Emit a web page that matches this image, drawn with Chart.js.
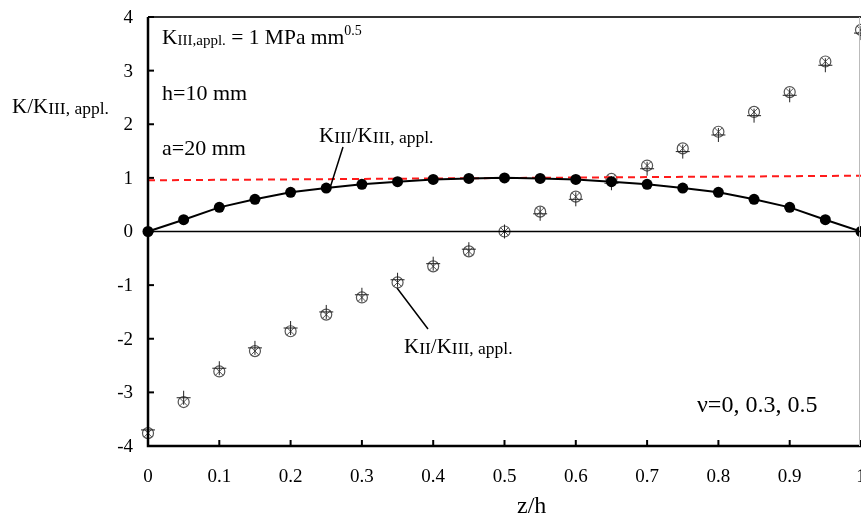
<!DOCTYPE html>
<html>
<head>
<meta charset="utf-8">
<script src="https://cdn.jsdelivr.net/npm/chart.js@4.4.0/dist/chart.umd.min.js"></script>
<style>
  html, body { margin: 0; padding: 0; background: #fff; }
  #wrap { width: 861px; height: 517px; }
</style>
</head>
<body>
<div id="wrap"><canvas id="kChart" width="861" height="517"></canvas></div>
<script>
// z/h positions
const zh = [0, 0.05, 0.1, 0.15, 0.2, 0.25, 0.3, 0.35, 0.4, 0.45, 0.5, 0.55, 0.6, 0.65, 0.7, 0.75, 0.8, 0.85, 0.9, 0.95, 1];
// KIII / KIII,appl.
const kIII = [0, 0.22, 0.45, 0.6, 0.73, 0.81, 0.88, 0.93, 0.97, 0.99, 1.0, 0.99, 0.97, 0.93, 0.88, 0.81, 0.73, 0.6, 0.45, 0.22, 0];
// KII / KIII,appl. for the three Poisson ratios
const kIIv0  = [-3.76, -3.18, -2.61, -2.23, -1.86, -1.55, -1.23, -0.95, -0.65, -0.37, 0, 0.37, 0.65, 0.98, 1.23, 1.55, 1.86, 2.23, 2.6, 3.17, 3.76];
const kIIv03 = [-3.76, -3.18, -2.61, -2.23, -1.86, -1.55, -1.23, -0.95, -0.65, -0.37, 0, 0.37, 0.65, 0.98, 1.23, 1.55, 1.86, 2.23, 2.6, 3.17, 3.76];
const kIIv05 = [-3.7, -3.1, -2.55, -2.17, -1.8, -1.5, -1.18, -0.9, -0.6, -0.33, 0, 0.33, 0.6, 0.9, 1.17, 1.49, 1.8, 2.16, 2.54, 3.1, 3.7];
// red dashed reference line
const refX = [0, 1];
const refY = [0.955, 1.04];
// tick labels
const xTicks = [0, 0.1, 0.2, 0.3, 0.4, 0.5, 0.6, 0.7, 0.8, 0.9, 1];
const yTicks = [-4, -3, -2, -1, 0, 1, 2, 3, 4];

const serif = '"Liberation Serif", "Times New Roman", serif';
const pts = (xs, ys) => xs.map((x, i) => ({ x: x, y: ys[i] }));

// draws text with sub/superscript pieces: [text, size, dy]
function rich(ctx, x, y, parts) {
    ctx.textAlign = 'left';
    ctx.textBaseline = 'alphabetic';
    parts.forEach(p => {
        ctx.font = p[1] + 'px ' + serif;
        ctx.fillText(p[0], x, y + (p[2] || 0));
        x += ctx.measureText(p[0]).width;
    });
}

const decor = {
    id: 'decor',
    afterDraw(chart) {
        const ctx = chart.ctx;
        const xs = chart.scales.x, ys = chart.scales.y;
        const a = chart.chartArea;
        ctx.save();
        ctx.strokeStyle = '#000';
        ctx.fillStyle = '#000';

        // frame
        ctx.lineWidth = 2.5;
        ctx.beginPath();
        ctx.moveTo(a.left, a.top); ctx.lineTo(a.left, a.bottom); ctx.lineTo(a.right, a.bottom);
        ctx.stroke();
        ctx.lineWidth = 2;
        ctx.strokeStyle = '#333';
        ctx.beginPath();
        ctx.moveTo(a.left, a.top); ctx.lineTo(a.right, a.top);
        ctx.stroke();
        ctx.strokeStyle = '#bbb';
        ctx.lineWidth = 1;
        ctx.beginPath();
        ctx.moveTo(a.right - 1.5, a.top); ctx.lineTo(a.right - 1.5, a.bottom);
        ctx.stroke();

        // zero line
        ctx.strokeStyle = '#000';
        ctx.lineWidth = 1.5;
        const y0 = ys.getPixelForValue(0);
        ctx.beginPath(); ctx.moveTo(a.left, y0); ctx.lineTo(a.right, y0); ctx.stroke();

        // ticks (inside)
        ctx.lineWidth = 2;
        yTicks.forEach(v => {
            const py = ys.getPixelForValue(v);
            ctx.beginPath(); ctx.moveTo(a.left, py); ctx.lineTo(a.left + 6, py); ctx.stroke();
        });
        xTicks.forEach(v => {
            const px = xs.getPixelForValue(v);
            ctx.beginPath(); ctx.moveTo(px, a.bottom); ctx.lineTo(px, a.bottom - 6); ctx.stroke();
        });

        // tick labels
        ctx.font = '19px ' + serif;
        ctx.textAlign = 'right';
        ctx.textBaseline = 'middle';
        yTicks.forEach(v => ctx.fillText(String(v), 133, ys.getPixelForValue(v) + 1));
        ctx.textAlign = 'center';
        ctx.textBaseline = 'alphabetic';
        xTicks.forEach(v => ctx.fillText(String(v), xs.getPixelForValue(v), 482));

        // axis titles
        rich(ctx, 517, 513, [['z/h', 24]]);
        rich(ctx, 12, 113, [['K/K', 21], ['III, appl.', 17.5, 1]]);

        // notes
        rich(ctx, 162, 44, [['K', 21.5], ['III,appl.', 15, 1], [' = 1 MPa mm', 21.5], ['0.5', 14, -9]]);
        rich(ctx, 162, 100, [['h=10 mm', 22]]);
        rich(ctx, 162, 155, [['a=20 mm', 22]]);
        rich(ctx, 697, 412, [['\u03bd=0, 0.3, 0.5', 24]]);

        // curve labels with leaders
        rich(ctx, 319, 142, [['K', 21], ['III', 17.5, 1], ['/K', 21], ['III, appl.', 17.5, 1]]);
        rich(ctx, 404, 353, [['K', 21], ['II', 17.5, 1], ['/K', 21], ['III, appl.', 17.5, 1]]);
        ctx.lineWidth = 1.5;
        ctx.beginPath();
        ctx.moveTo(343, 147); ctx.lineTo(330, 188);
        ctx.moveTo(397, 288); ctx.lineTo(428, 329);
        ctx.stroke();
        ctx.restore();
    }
};

new Chart(document.getElementById('kChart').getContext('2d'), {
    type: 'scatter',
    data: {
        datasets: [
            {
                label: 'KIII',
                data: pts(zh, kIII),
                showLine: true,
                borderColor: '#000',
                borderWidth: 2,
                backgroundColor: '#000',
                pointRadius: 5.5,
                pointBorderWidth: 0,
                clip: false
            },
            {
                label: 'ref',
                data: pts(refX, refY),
                showLine: true,
                borderColor: '#ff1a1a',
                borderWidth: 2,
                borderDash: [7, 5],
                pointRadius: 0,
                clip: false
            },
            {
                label: 'v=0.5',
                data: pts(zh, kIIv05),
                pointStyle: 'cross',
                pointRadius: 7,
                borderColor: '#222',
                borderWidth: 1,
                clip: false
            },
            {
                label: 'v=0.3',
                data: pts(zh, kIIv03),
                pointStyle: 'crossRot',
                pointRadius: 5.5,
                borderColor: '#555',
                borderWidth: 1,
                clip: false
            },
            {
                label: 'v=0',
                data: pts(zh, kIIv0),
                pointStyle: 'circle',
                pointRadius: 5.5,
                borderColor: '#555',
                backgroundColor: 'rgba(0,0,0,0)',
                borderWidth: 1.2,
                clip: false
            }
        ]
    },
    options: {
        responsive: false,
        animation: false,
        layout: { autoPadding: false, padding: { left: 148, top: 17, right: 0, bottom: 71 } },
        plugins: { legend: { display: false }, tooltip: { enabled: false } },
        scales: {
            x: { type: 'linear', min: 0, max: 1, display: false },
            y: { type: 'linear', min: -4, max: 4, display: false }
        }
    },
    plugins: [decor]
});
</script>
</body>
</html>
